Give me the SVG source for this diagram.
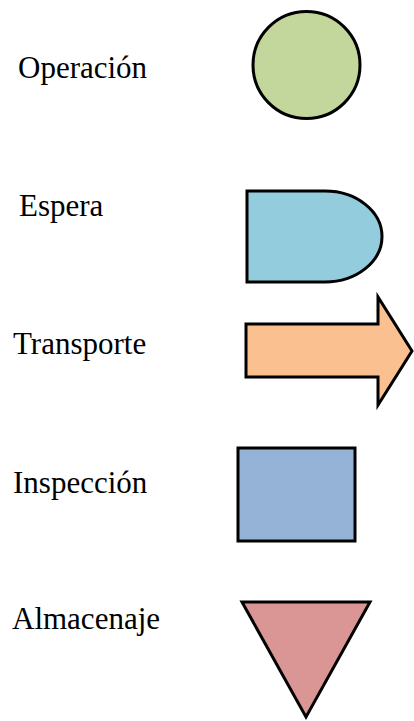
<svg xmlns="http://www.w3.org/2000/svg" width="414" height="721" viewBox="0 0 414 721">
<style>
.lbl{font-family:"Liberation Serif","Times New Roman",serif;font-size:31px;fill:#000}
.shp{stroke:#000;stroke-width:3;stroke-linejoin:miter}
</style>
<rect width="414" height="721" fill="#fff"/>
<g id="operacion">
<text class="lbl" x="18" y="78">Operación</text>
<circle class="shp" cx="306.5" cy="65" r="53.5" fill="#C3D69B"/>
</g>
<g id="espera">
<text class="lbl" x="19" y="216">Espera</text>
<path class="shp" d="M247,191 H325 A57,45.5 0 0 1 325,282 H247 Z" fill="#93CDDD"/>
</g>
<g id="transporte">
<text class="lbl" x="13" y="354">Transporte</text>
<path class="shp" d="M246,324 H378 V297 L412,351 L378,405 V377 H246 Z" fill="#FAC090"/>
</g>
<g id="inspeccion">
<text class="lbl" x="13" y="493">Inspección</text>
<rect class="shp" x="238" y="448" width="117" height="93" fill="#95B3D7"/>
</g>
<g id="almacenaje">
<text class="lbl" x="12" y="629">Almacenaje</text>
<path class="shp" d="M242,602 H370 L306,717 Z" fill="#D99694"/>
</g>
<g id="connectors"></g>
</svg>
